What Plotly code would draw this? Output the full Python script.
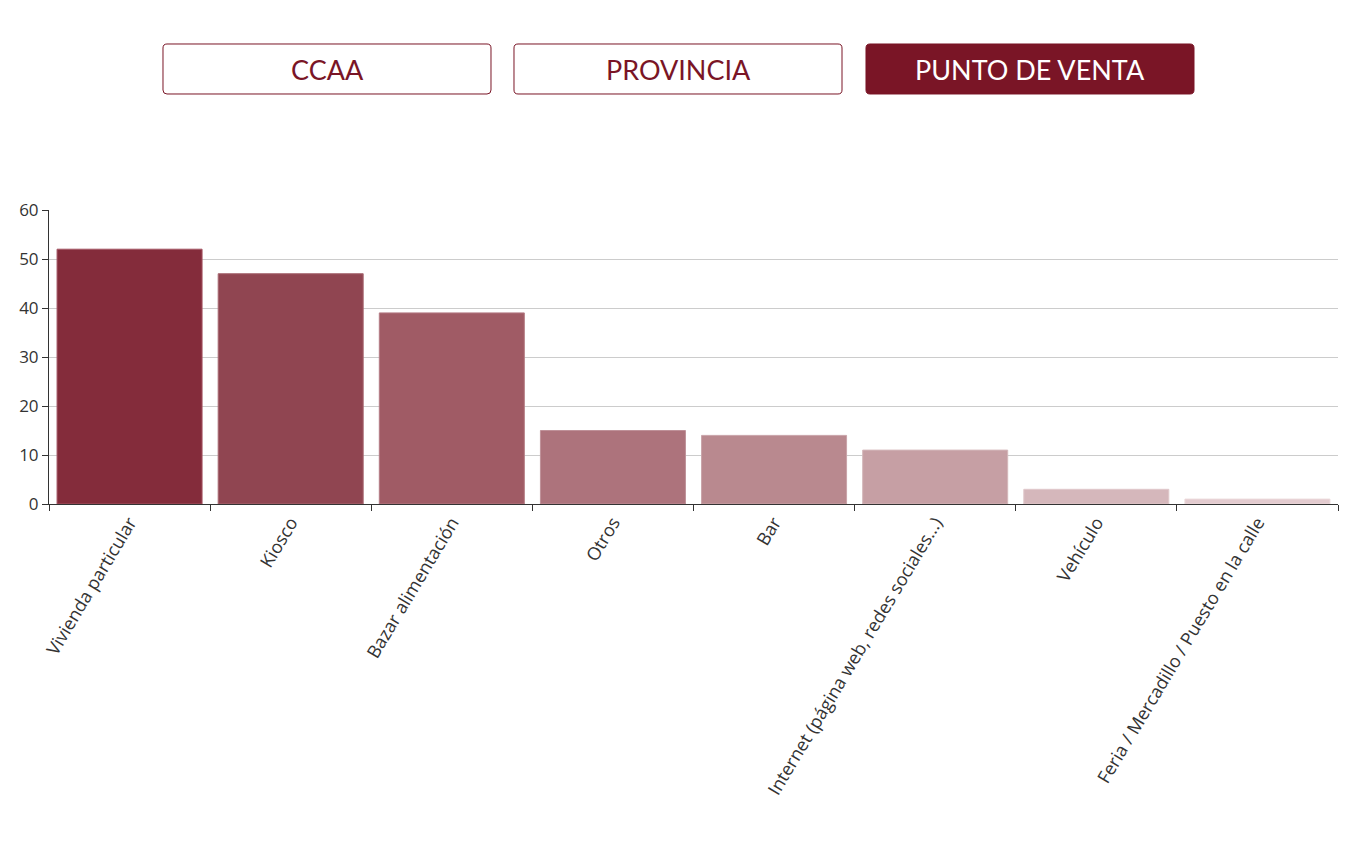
import plotly.graph_objects as go

categorias = ["Vivienda particular", "Kiosco", "Bazar alimentación", "Otros", "Bar",
              "Internet (página web, redes sociales...)", "Vehículo",
              "Feria / Mercadillo / Puesto en la calle"]
valores = [52, 47, 39, 15, 14, 11, 3, 1]
colores = ["#842C3B", "#904551", "#A05B65", "#AD737C", "#B9898F", "#C69FA4", "#D5B7BB", "#E3CBCF"]
bordes = ["#A55664", "#A86A73", "#B57C85", "#BF9199", "#C9A4A9", "#D4B7BB", "#E0C8CB", "#EBD9DB"]
botones = ["CCAA", "PROVINCIA", "PUNTO DE VENTA"]
activo = "PUNTO DE VENTA"

fig = go.Figure()
fig.add_trace(go.Bar(
    x=categorias, y=valores,
    marker=dict(color=colores, line=dict(color=bordes, width=1)),
))

# page has an 8px body margin; plot area in page px: x 49..1338, y 210..504
W, H = 1289, 294
def px(x):
    return (x - 49) / W
def py(y):
    return (504 - y) / H

def rounded(x0, y0, x1, y1, r=4):
    # rounded rectangle path (page px -> paper coords)
    pts = [
        ("M", px(x0 + r), py(y0)), ("L", px(x1 - r), py(y0)),
        ("Q", px(x1), py(y0), px(x1), py(y0 + r)), ("L", px(x1), py(y1 - r)),
        ("Q", px(x1), py(y1), px(x1 - r), py(y1)), ("L", px(x0 + r), py(y1)),
        ("Q", px(x0), py(y1), px(x0), py(y1 - r)), ("L", px(x0), py(y0 + r)),
        ("Q", px(x0), py(y0), px(x0 + r), py(y0)),
    ]
    out = ""
    for p in pts:
        out += p[0] + " " + " ".join("%.5f" % v for v in p[1:]) + " "
    return out + "Z"

lefts = [163, 514, 866]
for nombre, left in zip(botones, lefts):
    on = nombre == activo
    fig.add_shape(
        type="path", xref="paper", yref="paper",
        path=rounded(left, 44, left + 328, 94),
        fillcolor="#7A1526" if on else "white",
        line=dict(color="#7A1526", width=1),
    )
    fig.add_annotation(
        xref="paper", yref="paper", xanchor="center", yanchor="middle",
        x=px(left + 164), y=py(69),
        text=nombre, showarrow=False,
        font=dict(family="Lato", size=27, color="white" if on else "#7A1526"),
    )

fig.update_layout(
    width=1340, height=837,
    margin=dict(l=41, r=10, t=202, b=341),
    plot_bgcolor="white", paper_bgcolor="white",
    showlegend=False, bargap=0.1,
    font=dict(family="Open Sans", color="#333"),
)
fig.update_xaxes(
    type="category", tickson="boundaries", ticks="outside", ticklen=6,
    tickcolor="#333", showline=True, linecolor="#333", linewidth=1,
    showgrid=False, tickangle=-59, tickfont=dict(size=18, color="#333"),
)
fig.update_yaxes(
    range=[0, 60], dtick=10, ticks="outside", ticklen=6, tickcolor="#333",
    showline=True, linecolor="#333", linewidth=1,
    gridcolor="#CCCCCC", zeroline=False, tickfont=dict(size=17, color="#333"),
)

fig.write_html("out.html")
